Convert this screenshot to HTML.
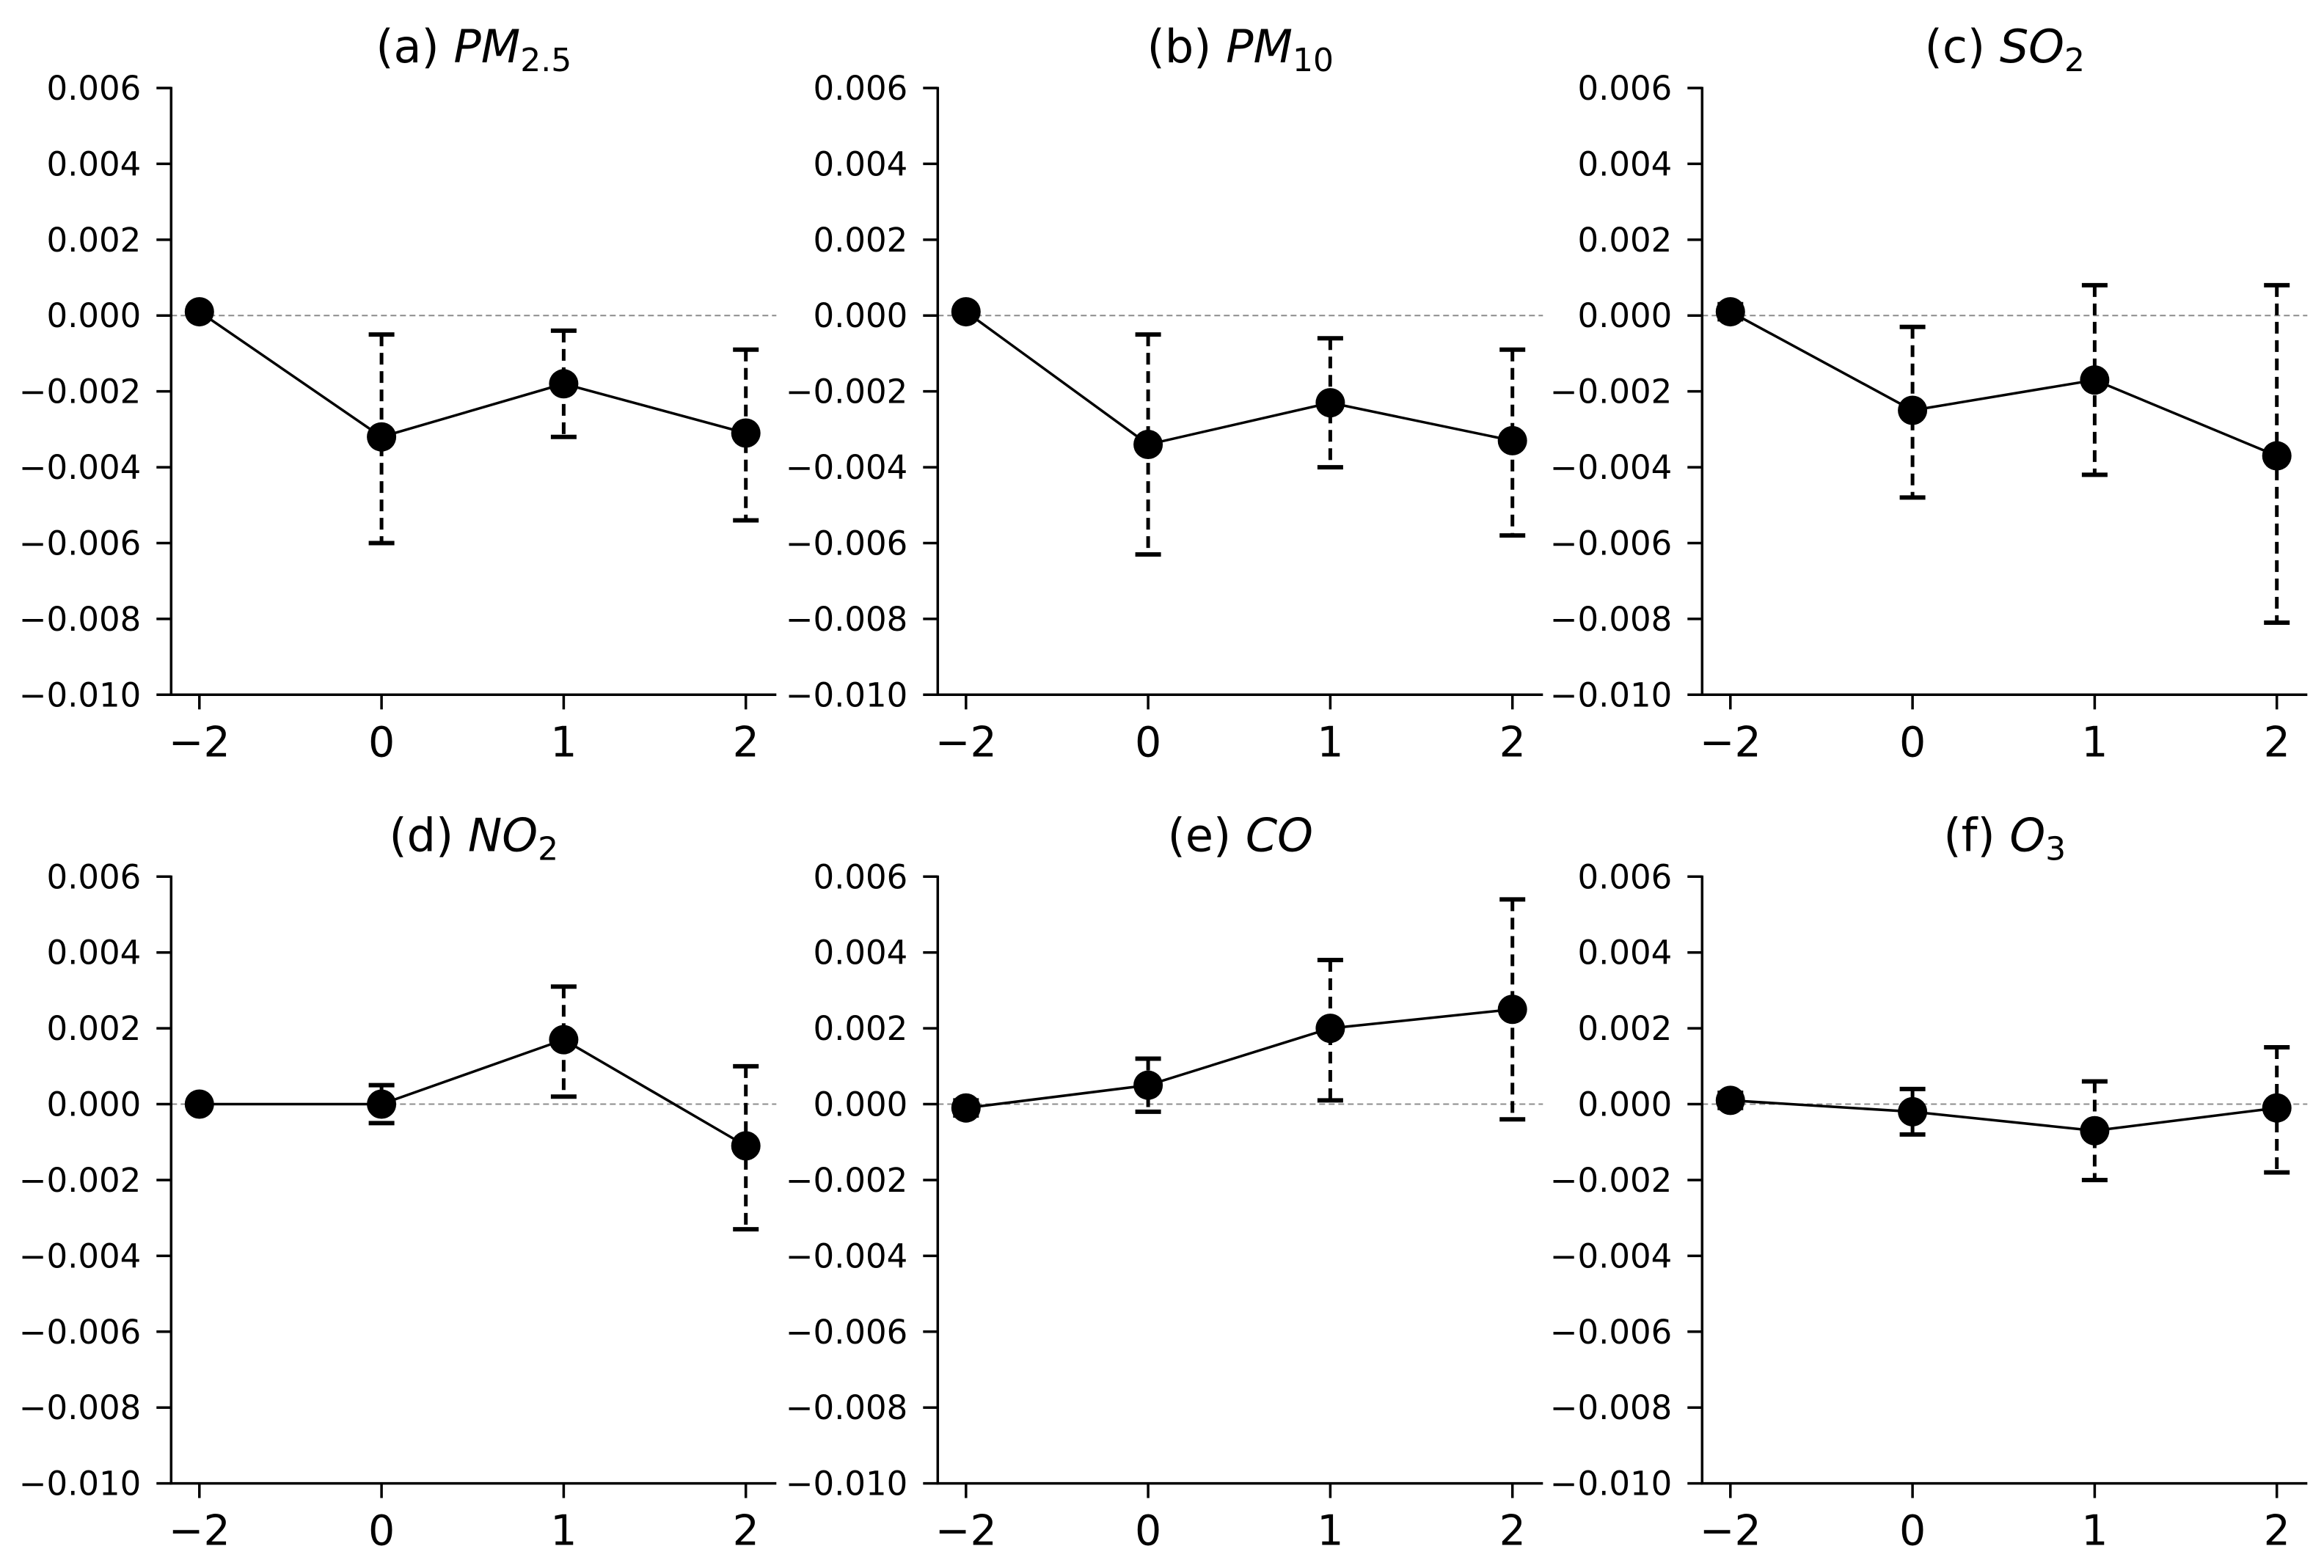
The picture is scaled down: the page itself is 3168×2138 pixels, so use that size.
<!DOCTYPE html>
<html><head><meta charset="utf-8">
<style>
html,body{margin:0;padding:0;background:#fff;}
svg{display:block;}
text{font-family:"DejaVu Sans","Liberation Sans",sans-serif;fill:#000;}
</style></head>
<body>
<svg id="fig" width="3168" height="2138" viewBox="0 0 3168 2138" xmlns="http://www.w3.org/2000/svg"></svg>
<script>
const categories = ["\u22122","0","1","2"];
const yTicks = [0.006,0.004,0.002,0,-0.002,-0.004,-0.006,-0.008,-0.010];
const yTickLabels = ["0.006","0.004","0.002","0.000","\u22120.002","\u22120.004","\u22120.006","\u22120.008","\u22120.010"];
const titlesPrefix = ["(a) ","(b) ","(c) ","(d) ","(e) ","(f) "];
const titlesMain = ["PM","PM","SO","NO","CO","O"];
const titlesSub = ["2.5","10","2","2","","3"];
const meanA = [0.0001,-0.0032,-0.0018,-0.0031];
const lowA  = [0.0000,-0.0060,-0.0032,-0.0054];
const highA = [0.0002,-0.0005,-0.0004,-0.0009];
const meanB = [0.0001,-0.0034,-0.0023,-0.0033];
const lowB  = [0.0000,-0.0063,-0.0040,-0.0058];
const highB = [0.0002,-0.0005,-0.0006,-0.0009];
const meanC = [0.0001,-0.0025,-0.0017,-0.0037];
const lowC  = [-0.0001,-0.0048,-0.0042,-0.0081];
const highC = [0.0003,-0.0003,0.0008,0.0008];
const meanD = [0.0000,0.0000,0.0017,-0.0011];
const lowD  = [-0.0001,-0.0005,0.0002,-0.0033];
const highD = [0.0001,0.0005,0.0031,0.0010];
const meanE = [-0.0001,0.0005,0.0020,0.0025];
const lowE  = [-0.0003,-0.0002,0.0001,-0.0004];
const highE = [0.0001,0.0012,0.0038,0.0054];
const meanF = [0.0001,-0.0002,-0.0007,-0.0001];
const lowF  = [-0.0001,-0.0008,-0.0020,-0.0018];
const highF = [0.0003,0.0004,0.0006,0.0015];

const means=[meanA,meanB,meanC,meanD,meanE,meanF];
const lows=[lowA,lowB,lowC,lowD,lowE,lowF];
const highs=[highA,highB,highC,highD,highE,highF];

const NS="http://www.w3.org/2000/svg";
const svg=document.getElementById('fig');
function mk(tag,attrs,parent){const e=document.createElementNS(NS,tag);for(const k in attrs)e.setAttribute(k,attrs[k]);parent.appendChild(e);return e;}

const colX=[233.3,1278.3,2320.3];
const rowY=[120,1195.3];
const axH=827.3;
const yMax=0.006,yMin=-0.010;
for(let p=0;p<6;p++){
  const ox=colX[p%3], oy=rowY[Math.floor(p/3)];
  const g=mk('g',{},svg);
  
  
  const ys=v=>oy+(yMax-v)/(yMax-yMin)*axH;
  const xs=i=>ox+38.5+i*248.3;
  const bottom=oy+axH;
  // zero line
  const z=mk('line',{x1:ox,x2:ox+825,y1:ys(0),y2:ys(0),stroke:'#8c8c8c','stroke-width':2,'stroke-dasharray':'8 5'},g);
  
  
  // spines
  const sl=mk('line',{x1:ox,x2:ox,y1:oy-1.5,y2:bottom+1.5,stroke:'#000','stroke-width':3.5},g);
  
  
  const sb=mk('line',{x1:ox-1.5,x2:ox+825,y1:bottom,y2:bottom,stroke:'#000','stroke-width':3.5},g);
  
  
  // y ticks
  for(let t=0;t<yTicks.length;t++){
    const y=ys(yTicks[t]);
    const tl=mk('line',{x1:ox-20,x2:ox,y1:y,y2:y,stroke:'#000','stroke-width':3.5},g);
    
    
    const tx=mk('text',{x:ox-41,y:y+16,'text-anchor':'end','font-size':45},g);
    tx.textContent=yTickLabels[t];
    
    
  }
  // x ticks
  for(let i=0;i<categories.length;i++){
    const x=xs(i);
    const tl=mk('line',{x1:x,x2:x,y1:bottom,y2:bottom+20,stroke:'#000','stroke-width':3.5},g);
    
    
    const tx=mk('text',{x:x,y:bottom+84,'text-anchor':'middle','font-size':57},g);
    tx.textContent=categories[i];
    
    
  }
  // title
  const tt=mk('text',{x:ox+412.5,y:oy-35,'text-anchor':'middle','font-size':62},g);
  
  
  const s1=mk('tspan',{},tt); s1.textContent=titlesPrefix[p];
  const s2=mk('tspan',{'font-style':'italic'},tt); s2.textContent=titlesMain[p];
  if(titlesSub[p]){const s3=mk('tspan',{'font-size':44,dy:12},tt); s3.textContent=titlesSub[p];}
  // error bars
  const m=means[p],lo=lows[p],hi=highs[p];
  for(let i=0;i<m.length;i++){
    const x=xs(i);
    const eb=mk('line',{x1:x,x2:x,y1:ys(hi[i]),y2:ys(lo[i]),stroke:'#000','stroke-width':5,'stroke-dasharray':'16 9'},g);
    
    
    for(const v of [hi[i],lo[i]]){
      const c=mk('line',{x1:x-17.5,x2:x+17.5,y1:ys(v),y2:ys(v),stroke:'#000','stroke-width':6},g);
      
      
    }
  }
  // line
  const pts=m.map((v,i)=>xs(i)+','+ys(v)).join(' ');
  const pl=mk('polyline',{points:pts,fill:'none',stroke:'#000','stroke-width':3.5},g);
  
  
  for(let i=0;i<m.length;i++){
    const c=mk('circle',{cx:xs(i),cy:ys(m[i]),r:20,fill:'#000'},g);
    
    
  }
}
</script>
</body></html>
